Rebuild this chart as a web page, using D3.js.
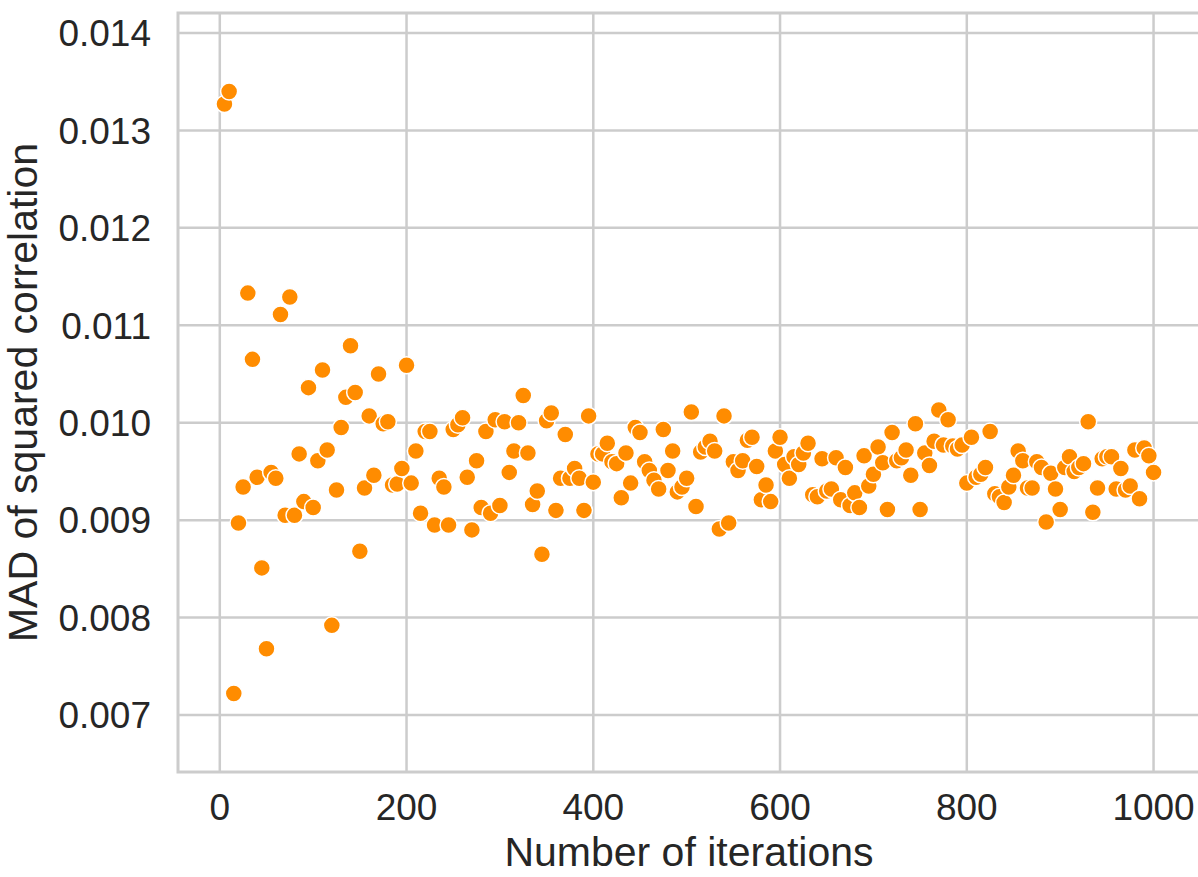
<!DOCTYPE html>
<html lang="en">
<head>
    <meta charset="UTF-8">
    <title>MAD of squared correlation vs iterations</title>
    <script src="https://d3js.org/d3.v7.min.js"></script>
    <style>
        body {
            margin: 0;
            padding: 0;
            background-color: #fff;
            font-family: "Liberation Sans", Arial, sans-serif;
        }
        .grid line {
            stroke: #cccccc;
            stroke-width: 2.5;
        }
        .tick-label {
            fill: #262626;
            font-size: 37px;
        }
        .axis-label {
            fill: #262626;
            font-size: 41px;
        }
    </style>
</head>
<body>
    <div id="chart"></div>

    <script>
        // iterations: 5, 10, ..., 1000
        const iterations = [
            5, 10, 15, 20, 25, 30, 35, 40, 45, 50, 55, 60, 65, 70, 75, 80, 85, 90, 95, 100,
            105, 110, 115, 120, 125, 130, 135, 140, 145, 150, 155, 160, 165, 170, 175, 180, 185, 190, 195, 200,
            205, 210, 215, 220, 225, 230, 235, 240, 245, 250, 255, 260, 265, 270, 275, 280, 285, 290, 295, 300,
            305, 310, 315, 320, 325, 330, 335, 340, 345, 350, 355, 360, 365, 370, 375, 380, 385, 390, 395, 400,
            405, 410, 415, 420, 425, 430, 435, 440, 445, 450, 455, 460, 465, 470, 475, 480, 485, 490, 495, 500,
            505, 510, 515, 520, 525, 530, 535, 540, 545, 550, 555, 560, 565, 570, 575, 580, 585, 590, 595, 600,
            605, 610, 615, 620, 625, 630, 635, 640, 645, 650, 655, 660, 665, 670, 675, 680, 685, 690, 695, 700,
            705, 710, 715, 720, 725, 730, 735, 740, 745, 750, 755, 760, 765, 770, 775, 780, 785, 790, 795, 800,
            805, 810, 815, 820, 825, 830, 835, 840, 845, 850, 855, 860, 865, 870, 875, 880, 885, 890, 895, 900,
            905, 910, 915, 920, 925, 930, 935, 940, 945, 950, 955, 960, 965, 970, 975, 980, 985, 990, 995, 1000
        ];

        // MAD values
        const madValues = [
            0.01327, 0.01340, 0.00722, 0.00897, 0.00934, 0.01133, 0.01065, 0.00944, 0.00851, 0.00768,
            0.00949, 0.00943, 0.01111, 0.00905, 0.01129, 0.00905, 0.00968, 0.00919, 0.01036, 0.00913,
            0.00961, 0.01054, 0.00972, 0.00792, 0.00931, 0.00995, 0.01026, 0.01079, 0.01031, 0.00868,
            0.00933, 0.01007, 0.00946, 0.01050, 0.00999, 0.01001, 0.00936, 0.00937, 0.00953, 0.01059,
            0.00938, 0.00971, 0.00907, 0.00991, 0.00991, 0.00895, 0.00943, 0.00934, 0.00895, 0.00993,
            0.00998, 0.01005, 0.00944, 0.00890, 0.00961, 0.00913, 0.00991, 0.00907, 0.01003, 0.00915,
            0.01001, 0.00949, 0.00971, 0.01000, 0.01028, 0.00969, 0.00916, 0.00930, 0.00865, 0.01002,
            0.01010, 0.00910, 0.00943, 0.00988, 0.00943, 0.00953, 0.00943, 0.00910, 0.01007, 0.00939,
            0.00968, 0.00968, 0.00979, 0.00960, 0.00958, 0.00923, 0.00969, 0.00938, 0.00995, 0.00990,
            0.00960, 0.00951, 0.00941, 0.00932, 0.00993, 0.00951, 0.00971, 0.00929, 0.00934, 0.00943,
            0.01011, 0.00914, 0.00970, 0.00975, 0.00981, 0.00971, 0.00891, 0.01007, 0.00897, 0.00960,
            0.00951, 0.00961, 0.00982, 0.00985, 0.00955, 0.00921, 0.00936, 0.00919, 0.00971, 0.00985,
            0.00957, 0.00943, 0.00965, 0.00957, 0.00969, 0.00979, 0.00926, 0.00924, 0.00963, 0.00930,
            0.00932, 0.00964, 0.00921, 0.00954, 0.00915, 0.00928, 0.00913, 0.00966, 0.00935, 0.00947,
            0.00975, 0.00959, 0.00911, 0.00990, 0.00961, 0.00964, 0.00972, 0.00946, 0.00999, 0.00911,
            0.00969, 0.00956, 0.00981, 0.01013, 0.00977, 0.01003, 0.00976, 0.00973, 0.00977, 0.00938,
            0.00985, 0.00944, 0.00947, 0.00954, 0.00991, 0.00927, 0.00924, 0.00918, 0.00934, 0.00946,
            0.00971, 0.00961, 0.00933, 0.00933, 0.00960, 0.00954, 0.00898, 0.00948, 0.00932, 0.00911,
            0.00954, 0.00965, 0.00950, 0.00954, 0.00958, 0.01001, 0.00908, 0.00933, 0.00963, 0.00965,
            0.00965, 0.00932, 0.00953, 0.00931, 0.00935, 0.00972, 0.00922, 0.00974, 0.00966, 0.00949
        ];

        const xTicks = [0, 200, 400, 600, 800, 1000];
        const yTicks = [0.007, 0.008, 0.009, 0.010, 0.011, 0.012, 0.013, 0.014];

        // canvas and plot area
        const width = 1198;
        const height = 877;
        const plot = {left: 178, right: 1200, top: 13, bottom: 772};

        const svg = d3.select('#chart')
            .append('svg')
            .attr('width', width)
            .attr('height', height);

        // scales
        const x = d3.scaleLinear()
            .domain([-44.75, 1049.75])
            .range([plot.left, plot.right]);

        const y = d3.scaleLinear()
            .domain([0.006415, 0.014205])
            .range([plot.bottom, plot.top]);

        // grid
        const grid = svg.append('g').attr('class', 'grid');
        grid.selectAll('.vline')
            .data(xTicks)
            .enter()
            .append('line')
            .attr('x1', d => x(d))
            .attr('x2', d => x(d))
            .attr('y1', plot.top)
            .attr('y2', plot.bottom);
        grid.selectAll('.hline')
            .data(yTicks)
            .enter()
            .append('line')
            .attr('x1', plot.left)
            .attr('x2', plot.right)
            .attr('y1', d => y(d))
            .attr('y2', d => y(d));

        // frame
        svg.append('rect')
            .attr('x', plot.left)
            .attr('y', plot.top)
            .attr('width', plot.right - plot.left)
            .attr('height', plot.bottom - plot.top)
            .style('fill', 'none')
            .style('stroke', '#cccccc')
            .style('stroke-width', 3);

        // tick labels
        svg.selectAll('.xtick')
            .data(xTicks)
            .enter()
            .append('text')
            .attr('class', 'tick-label')
            .attr('x', d => x(d))
            .attr('y', 820)
            .attr('text-anchor', 'middle')
            .text(d => d);

        svg.selectAll('.ytick')
            .data(yTicks)
            .enter()
            .append('text')
            .attr('class', 'tick-label')
            .attr('x', 151)
            .attr('y', d => y(d))
            .attr('dy', '0.36em')
            .attr('text-anchor', 'end')
            .text(d => d3.format('.3f')(d));

        // axis labels
        svg.append('text')
            .attr('class', 'axis-label')
            .attr('x', (plot.left + plot.right) / 2)
            .attr('y', 866)
            .attr('text-anchor', 'middle')
            .text('Number of iterations');

        svg.append('text')
            .attr('class', 'axis-label')
            .attr('transform', `translate(37,${(plot.top + plot.bottom) / 2})rotate(-90)`)
            .attr('text-anchor', 'middle')
            .text('MAD of squared correlation');

        // points
        const points = iterations.map((it, i) => ({it, v: madValues[i]}));
        svg.append('g')
            .selectAll('circle')
            .data(points)
            .enter()
            .append('circle')
            .attr('cx', d => x(d.it))
            .attr('cy', d => y(d.v))
            .attr('r', 8.5)
            .style('fill', '#ff8c00')
            .style('stroke', '#fff')
            .style('stroke-width', 1.5);
    </script>
</body>
</html>
